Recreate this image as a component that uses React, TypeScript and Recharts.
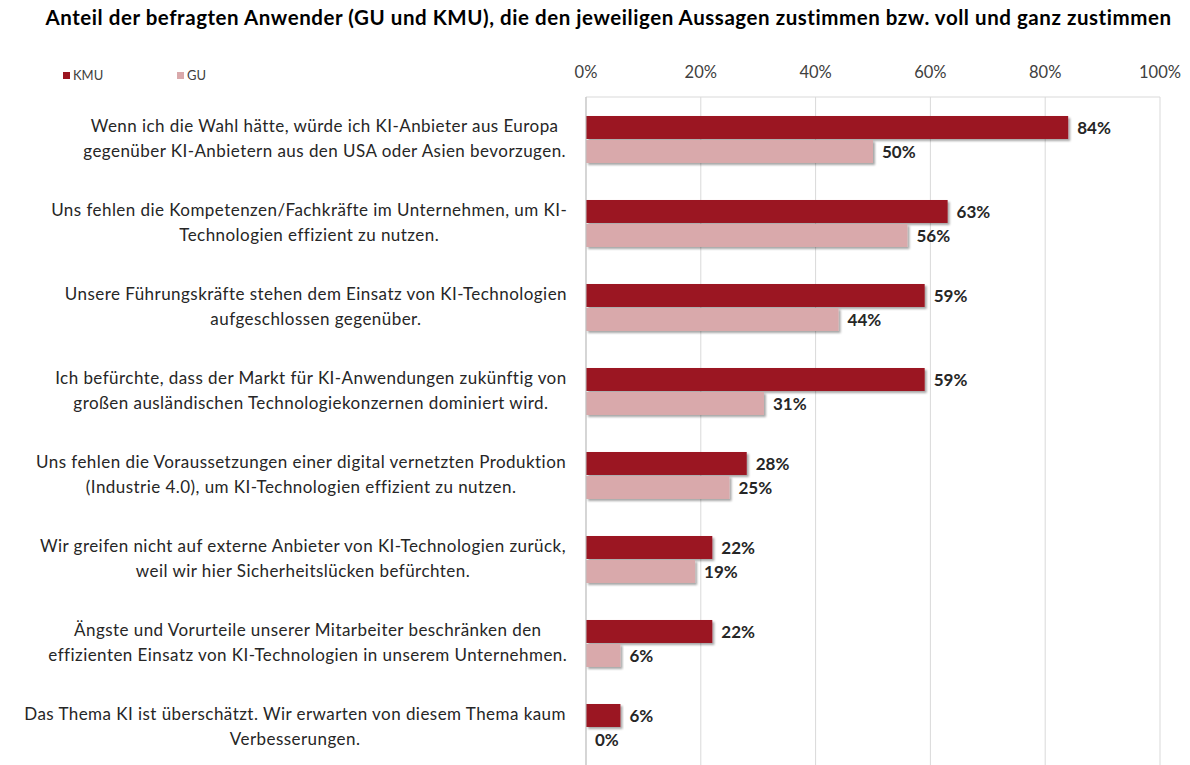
import React from "react"
import { Bar, BarChart, CartesianGrid, LabelList, XAxis, YAxis } from "recharts"

const statements = [
  "Wenn ich die Wahl hätte, würde ich KI-Anbieter aus Europa\ngegenüber KI-Anbietern aus den USA oder Asien bevorzugen.",
  "Uns fehlen die Kompetenzen/Fachkräfte im Unternehmen, um KI-\nTechnologien effizient zu nutzen.",
  "Unsere Führungskräfte stehen dem Einsatz von KI-Technologien\naufgeschlossen gegenüber.",
  "Ich befürchte, dass der Markt für KI-Anwendungen zukünftig von\ngroßen ausländischen Technologiekonzernen dominiert wird.",
  "Uns fehlen die Voraussetzungen einer digital vernetzten Produktion\n(Industrie 4.0), um KI-Technologien effizient zu nutzen.",
  "Wir greifen nicht auf externe Anbieter von KI-Technologien zurück,\nweil wir hier Sicherheitslücken befürchten.",
  "Ängste und Vorurteile unserer Mitarbeiter beschränken den\neffizienten Einsatz von KI-Technologien in unserem Unternehmen.",
  "Das Thema KI ist überschätzt. Wir erwarten von diesem Thema kaum\nVerbesserungen.",
]
const kmu = [84, 63, 59, 59, 28, 22, 22, 6]
const gu = [50, 56, 44, 31, 25, 19, 6, 0]
const xTicks = [0, 20, 40, 60, 80, 100]

const data = statements.map((name, i) => ({ name, KMU: kmu[i], GU: gu[i] }))

const FONT = "Lato, 'Open Sans', sans-serif"
const LABEL_SIZE = 17
const LABEL_SPACING = 0.45
const KMU_COLOR = "#9b1520"
const GU_COLOR = "#d9a9ab"

let ctx: CanvasRenderingContext2D | null = null
function textWidth(s: string) {
  if (!ctx) ctx = document.createElement("canvas").getContext("2d")
  if (!ctx) return s.length * 8
  ctx.font = `${LABEL_SIZE}px Lato`
  return ctx.measureText(s).width + s.length * LABEL_SPACING
}

function StatementTick(props: any) {
  const { y, payload } = props
  const lines: string[] = String(payload.value).split("\n")
  const maxW = Math.max(...lines.map(textWidth))
  const right = 567
  const cx = right - maxW / 2
  const lh = 25
  const startY = y - ((lines.length - 1) * lh) / 2
  return (
    <g>
      {lines.map((l, i) => (
        <text
          key={i}
          x={cx}
          y={startY + i * lh}
          dy="0.35em"
          textAnchor="middle"
          fontSize={LABEL_SIZE}
          fontFamily={FONT}
          letterSpacing={LABEL_SPACING}
          fill="#262626"
        >
          {l}
        </text>
      ))}
    </g>
  )
}

function ShadowBar(props: any) {
  const { x, y, width, height, fill } = props
  if (!width || width <= 0) return <g />
  return <rect x={x} y={y} width={width} height={height} fill={fill} filter="url(#barShadow)" />
}

const valueLabelStyle = { fontSize: 17, fontWeight: 700, fill: "#262626", fontFamily: FONT }

export default function App() {
  return (
    <div
      style={{
        position: "absolute",
        left: 0,
        top: 0,
        width: 1190,
        height: 765,
        overflow: "hidden",
        background: "#fff",
        fontFamily: FONT,
      }}
    >
      <div
        style={{
          position: "absolute",
          left: 30,
          top: 5,
          width: 1157,
          textAlign: "center",
          fontWeight: 700,
          fontSize: 20.5,
          letterSpacing: 0.55,
          whiteSpace: "nowrap",
          color: "#000",
        }}
      >
        Anteil der befragten Anwender (GU und KMU), die den jeweiligen Aussagen zustimmen bzw. voll und ganz zustimmen
      </div>
      <div style={{ position: "absolute", left: 63, top: 67, fontSize: 13, color: "#404040", display: "flex" }}>
        <span style={{ display: "flex", alignItems: "center", width: 114 }}>
          <span style={{ width: 7, height: 7, background: KMU_COLOR, marginRight: 3 }} />
          KMU
        </span>
        <span style={{ display: "flex", alignItems: "center" }}>
          <span style={{ width: 7, height: 7, background: GU_COLOR, marginRight: 3 }} />
          GU
        </span>
      </div>
      <BarChart
        width={1190}
        height={772}
        data={data}
        layout="vertical"
        margin={{ top: 57, right: 30, left: 0, bottom: 3 }}
        barCategoryGap="22.6%"
        barGap={1}
      >
        <defs>
          <filter id="barShadow" x="-5%" y="-30%" width="115%" height="170%">
            <feDropShadow dx="2" dy="2" stdDeviation="1.2" floodColor="#000" floodOpacity="0.35" />
          </filter>
        </defs>
        <CartesianGrid horizontal={false} stroke="#d9d9d9" />
        <XAxis
          type="number"
          orientation="top"
          domain={[0, 100]}
          ticks={xTicks}
          tickFormatter={(v) => `${v}%`}
          height={40}
          axisLine={{ stroke: "#d9d9d9" }}
          tickLine={false}
          tickMargin={13}
          tick={{ fontSize: 16.5, fill: "#404040", fontFamily: FONT }}
          interval={0}
        />
        <YAxis
          type="category"
          dataKey="name"
          width={586}
          axisLine={{ stroke: "#bfbfbf" }}
          tickLine={false}
          tick={<StatementTick />}
          interval={0}
        />
        <Bar dataKey="KMU" fill={KMU_COLOR} shape={<ShadowBar />} isAnimationActive={false}>
          <LabelList dataKey="KMU" position="right" offset={9} formatter={(v: any) => `${v}%`} style={valueLabelStyle} />
        </Bar>
        <Bar dataKey="GU" fill={GU_COLOR} shape={<ShadowBar />} isAnimationActive={false}>
          <LabelList dataKey="GU" position="right" offset={9} formatter={(v: any) => `${v}%`} style={valueLabelStyle} />
        </Bar>
      </BarChart>
    </div>
  )
}
